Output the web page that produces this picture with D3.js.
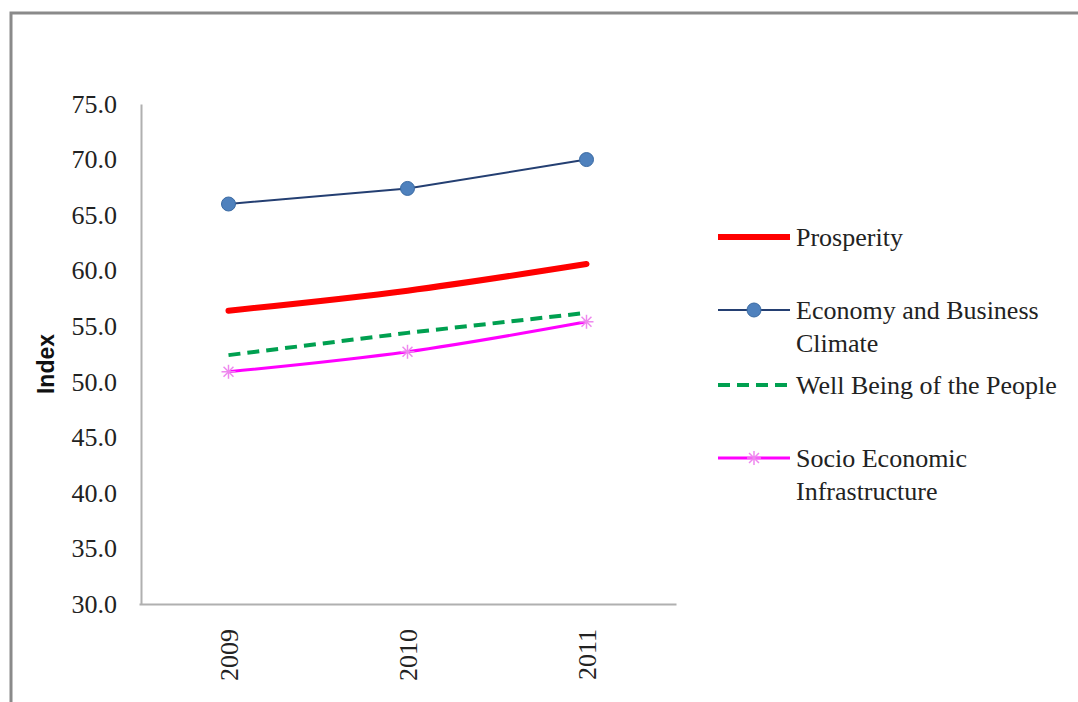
<!DOCTYPE html>
<html>
<head>
<meta charset="utf-8">
<script src="https://cdn.jsdelivr.net/npm/d3@7"></script>
<style>
  body { margin: 0; background: #fff; }
  svg { display: block; }
</style>
</head>
<body>
<div id="chart"></div>
<script>
// data
var years = ["2009", "2010", "2011"]
var prosperity = [56.4, 58.2, 60.6]
var economy = [66.0, 67.4, 70.0]
var wellBeing = [52.4, 54.4, 56.2]
var socio = [50.9, 52.7, 55.4]
var yTicks = [30, 35, 40, 45, 50, 55, 60, 65, 70, 75]

var series = [
  { name: ["Prosperity"], values: prosperity, color: "#ff0000", width: 6, dash: null, marker: null, curve: d3.curveMonotoneX, ly: 237 },
  { name: ["Economy and Business", "Climate"], values: economy, color: "#243f72", width: 2, dash: null, marker: "circle", curve: d3.curveLinear, ly: 310 },
  { name: ["Well Being of the People"], values: wellBeing, color: "#00a050", width: 4, dash: "12,7", marker: null, curve: d3.curveLinear, ly: 385 },
  { name: ["Socio Economic", "Infrastructure"], values: socio, color: "#ff00ff", width: 3, dash: null, marker: "star", curve: d3.curveMonotoneX, ly: 458 }
]

function drawChart() {
  var width = 1078, height = 702
  var svg = d3.select("#chart").append("svg")
    .attr("width", width)
    .attr("height", height)

  // outer frame
  svg.append("rect")
    .attr("x", 11).attr("y", 13)
    .attr("width", 1200).attr("height", 900)
    .attr("fill", "#fff")
    .attr("stroke", "#8a8a8a")
    .attr("stroke-width", 3)

  var left = 140, right = 677, plotTop = 104, bottom = 604

  var x = d3.scaleBand().domain(years).range([left - 1, right - 1])
  var y = d3.scaleLinear().domain([30, 75]).range([bottom, plotTop])

  var serif = "'Liberation Serif', 'Times New Roman', serif"

  // y axis
  var yAxis = svg.append("g")
    .attr("transform", "translate(" + (left + 1) + ",0)")
    .call(d3.axisLeft(y).tickValues(yTicks).tickSize(0).tickPadding(24).tickFormat(d3.format(".1f")))
  yAxis.select(".domain").attr("stroke", "#b0b0b0").attr("stroke-width", 2)
  yAxis.selectAll("text")
    .attr("font-family", serif)
    .attr("font-size", 26)
    .attr("fill", "#222")

  // x axis
  var xAxis = svg.append("g")
    .attr("transform", "translate(0," + bottom + ")")
    .call(d3.axisBottom(x).tickSize(0).tickPadding(0))
  xAxis.select(".domain").attr("stroke", "#b0b0b0").attr("stroke-width", 2)
  xAxis.selectAll("text")
    .attr("font-family", serif)
    .attr("font-size", 26)
    .attr("fill", "#222")
    .attr("text-anchor", "end")
    .attr("y", 0)
    .attr("dy", "0.35em")
    .attr("transform", "translate(0,25) rotate(-90)")

  // y axis title
  svg.append("text")
    .attr("transform", "translate(46," + ((plotTop + bottom) / 2 + 10) + ") rotate(-90)")
    .attr("text-anchor", "middle")
    .attr("dy", "0.35em")
    .attr("font-family", "'Liberation Sans', Arial, sans-serif")
    .attr("font-weight", "bold")
    .attr("font-size", 23)
    .attr("fill", "#111")
    .text("Index")

  function cx(i) { return x(years[i]) + x.bandwidth() / 2 }

  function drawMarker(g, kind, px, py) {
    if (kind === "circle") {
      g.append("circle")
        .attr("cx", px).attr("cy", py).attr("r", 7)
        .attr("fill", "#4f81bd").attr("stroke", "#3a6aa3").attr("stroke-width", 1)
    } else if (kind === "star") {
      var r = 7
      for (var a = 0; a < 180; a += 45) {
        var rad = a * Math.PI / 180
        g.append("line")
          .attr("x1", px - r * Math.cos(rad)).attr("y1", py - r * Math.sin(rad))
          .attr("x2", px + r * Math.cos(rad)).attr("y2", py + r * Math.sin(rad))
          .attr("stroke", "#ee88ee").attr("stroke-width", 1.5)
      }
    }
  }

  var plot = svg.append("g")

  series.forEach(function(s) {
    var line = d3.line()
      .x(function(d, i) { return cx(i) })
      .y(function(d) { return y(d) })
      .curve(s.curve)

    plot.append("path")
      .datum(s.values)
      .attr("d", line)
      .attr("fill", "none")
      .attr("stroke", s.color)
      .attr("stroke-width", s.width)
      .attr("stroke-dasharray", s.dash)
      .attr("stroke-linecap", s.dash ? "butt" : "round")

    if (s.marker) {
      s.values.forEach(function(v, i) {
        drawMarker(plot, s.marker, cx(i), y(v))
      })
    }
  })

  // legend
  var legend = svg.append("g")
  var lx0 = 718, lx1 = 790

  series.forEach(function(s) {
    legend.append("line")
      .attr("x1", lx0).attr("x2", lx1)
      .attr("y1", s.ly).attr("y2", s.ly)
      .attr("stroke", s.color)
      .attr("stroke-width", s.width)
      .attr("stroke-dasharray", s.dash)

    if (s.marker) drawMarker(legend, s.marker, (lx0 + lx1) / 2, s.ly)

    var t = legend.append("text")
      .attr("x", 796)
      .attr("y", s.ly)
      .attr("font-family", serif)
      .attr("font-size", 26)
      .attr("fill", "#222")
    s.name.forEach(function(part, k) {
      t.append("tspan")
        .attr("x", 796)
        .attr("dy", k === 0 ? "0.35em" : "1.28em")
        .text(part)
    })
  })
}

drawChart()
</script>
</body>
</html>
